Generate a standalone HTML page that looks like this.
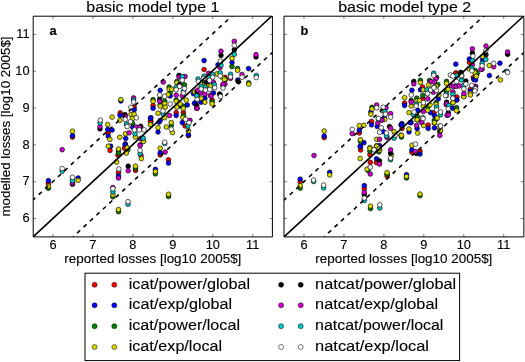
<!DOCTYPE html><html><head><meta charset="utf-8"><style>html,body{margin:0;padding:0;background:#fff;overflow:hidden}svg{display:block;will-change:transform}text{font-family:"Liberation Sans",sans-serif;fill:#000;stroke:#000;stroke-width:0.12px}</style></head><body>
<svg width="525" height="362" viewBox="0 0 525 362">
<rect width="525" height="362" fill="#fff"/>
<g clip-path="url(#c0)">
<clipPath id="c0"><rect x="33.0" y="16.0" width="239.70000000000005" height="220.92000000000002"/></clipPath>
<circle cx="204.1" cy="69.5" r="2.35" fill="#ff0000" stroke="#000" stroke-width="0.65"/>
<circle cx="225.0" cy="77.3" r="2.35" fill="#ff0000" stroke="#000" stroke-width="0.65"/>
<circle cx="212.1" cy="100.0" r="2.35" fill="#ff0000" stroke="#000" stroke-width="0.65"/>
<circle cx="153.1" cy="105.5" r="2.35" fill="#ff0000" stroke="#000" stroke-width="0.65"/>
<circle cx="176.2" cy="112.7" r="2.35" fill="#ff0000" stroke="#000" stroke-width="0.65"/>
<circle cx="150.9" cy="121.5" r="2.35" fill="#ff0000" stroke="#000" stroke-width="0.65"/>
<circle cx="183.4" cy="112.7" r="2.35" fill="#ff0000" stroke="#000" stroke-width="0.65"/>
<circle cx="185.1" cy="126.0" r="2.35" fill="#ff0000" stroke="#000" stroke-width="0.65"/>
<circle cx="188.4" cy="135.6" r="2.35" fill="#ff0000" stroke="#000" stroke-width="0.65"/>
<circle cx="160.2" cy="154.9" r="2.35" fill="#ff0000" stroke="#000" stroke-width="0.65"/>
<circle cx="168.5" cy="159.8" r="2.35" fill="#ff0000" stroke="#000" stroke-width="0.65"/>
<circle cx="134.2" cy="107.1" r="2.35" fill="#ff0000" stroke="#000" stroke-width="0.65"/>
<circle cx="120.2" cy="112.9" r="2.35" fill="#ff0000" stroke="#000" stroke-width="0.65"/>
<circle cx="108.2" cy="132.8" r="2.35" fill="#ff0000" stroke="#000" stroke-width="0.65"/>
<circle cx="150.4" cy="121.7" r="2.35" fill="#ff0000" stroke="#000" stroke-width="0.65"/>
<circle cx="72.5" cy="137.1" r="2.35" fill="#ff0000" stroke="#000" stroke-width="0.65"/>
<circle cx="48.4" cy="183.5" r="2.35" fill="#ff0000" stroke="#000" stroke-width="0.65"/>
<circle cx="110.0" cy="150.4" r="2.35" fill="#ff0000" stroke="#000" stroke-width="0.65"/>
<circle cx="118.0" cy="155.2" r="2.35" fill="#ff0000" stroke="#000" stroke-width="0.65"/>
<circle cx="124.5" cy="148.3" r="2.35" fill="#ff0000" stroke="#000" stroke-width="0.65"/>
<circle cx="141.0" cy="155.5" r="2.35" fill="#ff0000" stroke="#000" stroke-width="0.65"/>
<circle cx="118.5" cy="172.5" r="2.35" fill="#ff0000" stroke="#000" stroke-width="0.65"/>
<circle cx="135.5" cy="170.4" r="2.35" fill="#ff0000" stroke="#000" stroke-width="0.65"/>
<circle cx="232.0" cy="62.6" r="2.35" fill="#0000ff" stroke="#000" stroke-width="0.65"/>
<circle cx="218.0" cy="64.8" r="2.35" fill="#0000ff" stroke="#000" stroke-width="0.65"/>
<circle cx="248.6" cy="68.6" r="2.35" fill="#0000ff" stroke="#000" stroke-width="0.65"/>
<circle cx="204.1" cy="60.6" r="2.35" fill="#0000ff" stroke="#000" stroke-width="0.65"/>
<circle cx="237.8" cy="80.0" r="2.35" fill="#0000ff" stroke="#000" stroke-width="0.65"/>
<circle cx="213.4" cy="93.0" r="2.35" fill="#0000ff" stroke="#000" stroke-width="0.65"/>
<circle cx="201.1" cy="102.2" r="2.35" fill="#0000ff" stroke="#000" stroke-width="0.65"/>
<circle cx="204.9" cy="98.3" r="2.35" fill="#0000ff" stroke="#000" stroke-width="0.65"/>
<circle cx="195.6" cy="102.7" r="2.35" fill="#0000ff" stroke="#000" stroke-width="0.65"/>
<circle cx="160.2" cy="90.3" r="2.35" fill="#0000ff" stroke="#000" stroke-width="0.65"/>
<circle cx="170.2" cy="96.0" r="2.35" fill="#0000ff" stroke="#000" stroke-width="0.65"/>
<circle cx="193.4" cy="93.6" r="2.35" fill="#0000ff" stroke="#000" stroke-width="0.65"/>
<circle cx="153.1" cy="108.3" r="2.35" fill="#0000ff" stroke="#000" stroke-width="0.65"/>
<circle cx="180.1" cy="106.1" r="2.35" fill="#0000ff" stroke="#000" stroke-width="0.65"/>
<circle cx="187.3" cy="105.0" r="2.35" fill="#0000ff" stroke="#000" stroke-width="0.65"/>
<circle cx="176.2" cy="115.5" r="2.35" fill="#0000ff" stroke="#000" stroke-width="0.65"/>
<circle cx="150.9" cy="117.7" r="2.35" fill="#0000ff" stroke="#000" stroke-width="0.65"/>
<circle cx="159.1" cy="122.1" r="2.35" fill="#0000ff" stroke="#000" stroke-width="0.65"/>
<circle cx="160.2" cy="120.5" r="2.35" fill="#0000ff" stroke="#000" stroke-width="0.65"/>
<circle cx="158.0" cy="132.0" r="2.35" fill="#0000ff" stroke="#000" stroke-width="0.65"/>
<circle cx="182.3" cy="122.6" r="2.35" fill="#0000ff" stroke="#000" stroke-width="0.65"/>
<circle cx="188.4" cy="134.8" r="2.35" fill="#0000ff" stroke="#000" stroke-width="0.65"/>
<circle cx="194.5" cy="103.3" r="2.35" fill="#0000ff" stroke="#000" stroke-width="0.65"/>
<circle cx="160.2" cy="152.7" r="2.35" fill="#0000ff" stroke="#000" stroke-width="0.65"/>
<circle cx="168.5" cy="163.1" r="2.35" fill="#0000ff" stroke="#000" stroke-width="0.65"/>
<circle cx="155.4" cy="169.4" r="2.35" fill="#0000ff" stroke="#000" stroke-width="0.65"/>
<circle cx="120.9" cy="101.0" r="2.35" fill="#0000ff" stroke="#000" stroke-width="0.65"/>
<circle cx="134.2" cy="109.8" r="2.35" fill="#0000ff" stroke="#000" stroke-width="0.65"/>
<circle cx="120.0" cy="115.3" r="2.35" fill="#0000ff" stroke="#000" stroke-width="0.65"/>
<circle cx="132.8" cy="127.3" r="2.35" fill="#0000ff" stroke="#000" stroke-width="0.65"/>
<circle cx="107.7" cy="129.5" r="2.35" fill="#0000ff" stroke="#000" stroke-width="0.65"/>
<circle cx="112.1" cy="130.0" r="2.35" fill="#0000ff" stroke="#000" stroke-width="0.65"/>
<circle cx="108.2" cy="136.1" r="2.35" fill="#0000ff" stroke="#000" stroke-width="0.65"/>
<circle cx="125.7" cy="138.5" r="2.35" fill="#0000ff" stroke="#000" stroke-width="0.65"/>
<circle cx="150.4" cy="118.3" r="2.35" fill="#0000ff" stroke="#000" stroke-width="0.65"/>
<circle cx="125.3" cy="143.9" r="2.35" fill="#0000ff" stroke="#000" stroke-width="0.65"/>
<circle cx="72.5" cy="135.7" r="2.35" fill="#0000ff" stroke="#000" stroke-width="0.65"/>
<circle cx="78.1" cy="178.0" r="2.35" fill="#0000ff" stroke="#000" stroke-width="0.65"/>
<circle cx="48.4" cy="180.7" r="2.35" fill="#0000ff" stroke="#000" stroke-width="0.65"/>
<circle cx="110.6" cy="146.2" r="2.35" fill="#0000ff" stroke="#000" stroke-width="0.65"/>
<circle cx="118.5" cy="151.0" r="2.35" fill="#0000ff" stroke="#000" stroke-width="0.65"/>
<circle cx="125.1" cy="144.8" r="2.35" fill="#0000ff" stroke="#000" stroke-width="0.65"/>
<circle cx="118.5" cy="175.9" r="2.35" fill="#0000ff" stroke="#000" stroke-width="0.65"/>
<circle cx="232.0" cy="66.6" r="2.35" fill="#008000" stroke="#000" stroke-width="0.65"/>
<circle cx="237.6" cy="68.5" r="2.35" fill="#008000" stroke="#000" stroke-width="0.65"/>
<circle cx="248.7" cy="82.8" r="2.35" fill="#008000" stroke="#000" stroke-width="0.65"/>
<circle cx="204.3" cy="82.2" r="2.35" fill="#008000" stroke="#000" stroke-width="0.65"/>
<circle cx="212.1" cy="101.8" r="2.35" fill="#008000" stroke="#000" stroke-width="0.65"/>
<circle cx="176.8" cy="81.5" r="2.35" fill="#008000" stroke="#000" stroke-width="0.65"/>
<circle cx="184.5" cy="84.8" r="2.35" fill="#008000" stroke="#000" stroke-width="0.65"/>
<circle cx="169.1" cy="87.0" r="2.35" fill="#008000" stroke="#000" stroke-width="0.65"/>
<circle cx="170.2" cy="92.5" r="2.35" fill="#008000" stroke="#000" stroke-width="0.65"/>
<circle cx="153.1" cy="99.7" r="2.35" fill="#008000" stroke="#000" stroke-width="0.65"/>
<circle cx="164.7" cy="101.3" r="2.35" fill="#008000" stroke="#000" stroke-width="0.65"/>
<circle cx="176.2" cy="100.0" r="2.35" fill="#008000" stroke="#000" stroke-width="0.65"/>
<circle cx="160.2" cy="104.5" r="2.35" fill="#008000" stroke="#000" stroke-width="0.65"/>
<circle cx="183.4" cy="106.1" r="2.35" fill="#008000" stroke="#000" stroke-width="0.65"/>
<circle cx="171.3" cy="125.4" r="2.35" fill="#008000" stroke="#000" stroke-width="0.65"/>
<circle cx="183.4" cy="115.5" r="2.35" fill="#008000" stroke="#000" stroke-width="0.65"/>
<circle cx="155.4" cy="173.8" r="2.35" fill="#008000" stroke="#000" stroke-width="0.65"/>
<circle cx="168.5" cy="196.5" r="2.35" fill="#008000" stroke="#000" stroke-width="0.65"/>
<circle cx="132.5" cy="123.4" r="2.35" fill="#008000" stroke="#000" stroke-width="0.65"/>
<circle cx="48.4" cy="188.3" r="2.35" fill="#008000" stroke="#000" stroke-width="0.65"/>
<circle cx="118.5" cy="153.1" r="2.35" fill="#008000" stroke="#000" stroke-width="0.65"/>
<circle cx="127.9" cy="149.7" r="2.35" fill="#008000" stroke="#000" stroke-width="0.65"/>
<circle cx="135.5" cy="168.3" r="2.35" fill="#008000" stroke="#000" stroke-width="0.65"/>
<circle cx="112.9" cy="196.8" r="2.35" fill="#008000" stroke="#000" stroke-width="0.65"/>
<circle cx="118.5" cy="211.7" r="2.35" fill="#008000" stroke="#000" stroke-width="0.65"/>
<circle cx="232.0" cy="58.4" r="2.35" fill="#d8d800" stroke="#000" stroke-width="0.65"/>
<circle cx="237.6" cy="70.3" r="2.35" fill="#d8d800" stroke="#000" stroke-width="0.65"/>
<circle cx="248.8" cy="84.1" r="2.35" fill="#d8d800" stroke="#000" stroke-width="0.65"/>
<circle cx="225.6" cy="79.4" r="2.35" fill="#d8d800" stroke="#000" stroke-width="0.65"/>
<circle cx="217.1" cy="73.9" r="2.35" fill="#d8d800" stroke="#000" stroke-width="0.65"/>
<circle cx="222.3" cy="77.3" r="2.35" fill="#d8d800" stroke="#000" stroke-width="0.65"/>
<circle cx="224.4" cy="79.4" r="2.35" fill="#d8d800" stroke="#000" stroke-width="0.65"/>
<circle cx="204.8" cy="84.6" r="2.35" fill="#d8d800" stroke="#000" stroke-width="0.65"/>
<circle cx="208.3" cy="85.8" r="2.35" fill="#d8d800" stroke="#000" stroke-width="0.65"/>
<circle cx="210.5" cy="86.0" r="2.35" fill="#d8d800" stroke="#000" stroke-width="0.65"/>
<circle cx="219.5" cy="94.0" r="2.35" fill="#d8d800" stroke="#000" stroke-width="0.65"/>
<circle cx="201.1" cy="98.3" r="2.35" fill="#d8d800" stroke="#000" stroke-width="0.65"/>
<circle cx="204.9" cy="102.2" r="2.35" fill="#d8d800" stroke="#000" stroke-width="0.65"/>
<circle cx="212.1" cy="103.8" r="2.35" fill="#d8d800" stroke="#000" stroke-width="0.65"/>
<circle cx="176.8" cy="82.6" r="2.35" fill="#d8d800" stroke="#000" stroke-width="0.65"/>
<circle cx="169.1" cy="89.2" r="2.35" fill="#d8d800" stroke="#000" stroke-width="0.65"/>
<circle cx="171.8" cy="89.2" r="2.35" fill="#d8d800" stroke="#000" stroke-width="0.65"/>
<circle cx="168.0" cy="94.7" r="2.35" fill="#d8d800" stroke="#000" stroke-width="0.65"/>
<circle cx="153.1" cy="101.3" r="2.35" fill="#d8d800" stroke="#000" stroke-width="0.65"/>
<circle cx="164.7" cy="103.5" r="2.35" fill="#d8d800" stroke="#000" stroke-width="0.65"/>
<circle cx="176.2" cy="101.3" r="2.35" fill="#d8d800" stroke="#000" stroke-width="0.65"/>
<circle cx="186.2" cy="100.2" r="2.35" fill="#d8d800" stroke="#000" stroke-width="0.65"/>
<circle cx="180.1" cy="104.0" r="2.35" fill="#d8d800" stroke="#000" stroke-width="0.65"/>
<circle cx="194.5" cy="92.0" r="2.35" fill="#d8d800" stroke="#000" stroke-width="0.65"/>
<circle cx="160.2" cy="106.1" r="2.35" fill="#d8d800" stroke="#000" stroke-width="0.65"/>
<circle cx="165.2" cy="107.2" r="2.35" fill="#d8d800" stroke="#000" stroke-width="0.65"/>
<circle cx="176.8" cy="107.2" r="2.35" fill="#d8d800" stroke="#000" stroke-width="0.65"/>
<circle cx="183.4" cy="108.3" r="2.35" fill="#d8d800" stroke="#000" stroke-width="0.65"/>
<circle cx="158.0" cy="113.2" r="2.35" fill="#d8d800" stroke="#000" stroke-width="0.65"/>
<circle cx="164.7" cy="117.7" r="2.35" fill="#d8d800" stroke="#000" stroke-width="0.65"/>
<circle cx="150.9" cy="124.8" r="2.35" fill="#d8d800" stroke="#000" stroke-width="0.65"/>
<circle cx="158.0" cy="127.6" r="2.35" fill="#d8d800" stroke="#000" stroke-width="0.65"/>
<circle cx="166.3" cy="127.0" r="2.35" fill="#d8d800" stroke="#000" stroke-width="0.65"/>
<circle cx="171.3" cy="122.6" r="2.35" fill="#d8d800" stroke="#000" stroke-width="0.65"/>
<circle cx="172.4" cy="132.6" r="2.35" fill="#d8d800" stroke="#000" stroke-width="0.65"/>
<circle cx="182.9" cy="117.7" r="2.35" fill="#d8d800" stroke="#000" stroke-width="0.65"/>
<circle cx="188.4" cy="130.9" r="2.35" fill="#d8d800" stroke="#000" stroke-width="0.65"/>
<circle cx="160.2" cy="148.2" r="2.35" fill="#d8d800" stroke="#000" stroke-width="0.65"/>
<circle cx="155.4" cy="171.6" r="2.35" fill="#d8d800" stroke="#000" stroke-width="0.65"/>
<circle cx="168.5" cy="194.3" r="2.35" fill="#d8d800" stroke="#000" stroke-width="0.65"/>
<circle cx="120.9" cy="99.6" r="2.35" fill="#d8d800" stroke="#000" stroke-width="0.65"/>
<circle cx="112.1" cy="117.1" r="2.35" fill="#d8d800" stroke="#000" stroke-width="0.65"/>
<circle cx="119.9" cy="120.4" r="2.35" fill="#d8d800" stroke="#000" stroke-width="0.65"/>
<circle cx="131.0" cy="114.4" r="2.35" fill="#d8d800" stroke="#000" stroke-width="0.65"/>
<circle cx="134.1" cy="114.2" r="2.35" fill="#d8d800" stroke="#000" stroke-width="0.65"/>
<circle cx="132.5" cy="118.5" r="2.35" fill="#d8d800" stroke="#000" stroke-width="0.65"/>
<circle cx="107.7" cy="124.5" r="2.35" fill="#d8d800" stroke="#000" stroke-width="0.65"/>
<circle cx="109.9" cy="139.4" r="2.35" fill="#d8d800" stroke="#000" stroke-width="0.65"/>
<circle cx="135.3" cy="137.1" r="2.35" fill="#d8d800" stroke="#000" stroke-width="0.65"/>
<circle cx="125.4" cy="133.8" r="2.35" fill="#d8d800" stroke="#000" stroke-width="0.65"/>
<circle cx="119.8" cy="137.2" r="2.35" fill="#d8d800" stroke="#000" stroke-width="0.65"/>
<circle cx="143.4" cy="141.0" r="2.35" fill="#d8d800" stroke="#000" stroke-width="0.65"/>
<circle cx="150.4" cy="124.6" r="2.35" fill="#d8d800" stroke="#000" stroke-width="0.65"/>
<circle cx="72.5" cy="131.2" r="2.35" fill="#d8d800" stroke="#000" stroke-width="0.65"/>
<circle cx="78.1" cy="180.3" r="2.35" fill="#d8d800" stroke="#000" stroke-width="0.65"/>
<circle cx="48.4" cy="186.3" r="2.35" fill="#d8d800" stroke="#000" stroke-width="0.65"/>
<circle cx="108.3" cy="146.2" r="2.35" fill="#d8d800" stroke="#000" stroke-width="0.65"/>
<circle cx="118.5" cy="149.0" r="2.35" fill="#d8d800" stroke="#000" stroke-width="0.65"/>
<circle cx="127.2" cy="147.6" r="2.35" fill="#d8d800" stroke="#000" stroke-width="0.65"/>
<circle cx="126.3" cy="153.1" r="2.35" fill="#d8d800" stroke="#000" stroke-width="0.65"/>
<circle cx="143.4" cy="141.4" r="2.35" fill="#d8d800" stroke="#000" stroke-width="0.65"/>
<circle cx="141.4" cy="158.6" r="2.35" fill="#d8d800" stroke="#000" stroke-width="0.65"/>
<circle cx="116.6" cy="162.1" r="2.35" fill="#d8d800" stroke="#000" stroke-width="0.65"/>
<circle cx="135.5" cy="166.2" r="2.35" fill="#d8d800" stroke="#000" stroke-width="0.65"/>
<circle cx="112.9" cy="194.9" r="2.35" fill="#d8d800" stroke="#000" stroke-width="0.65"/>
<circle cx="118.5" cy="209.6" r="2.35" fill="#d8d800" stroke="#000" stroke-width="0.65"/>
<circle cx="234.3" cy="49.9" r="2.35" fill="#000000" stroke="#000" stroke-width="0.65"/>
<circle cx="221.0" cy="55.4" r="2.35" fill="#000000" stroke="#000" stroke-width="0.65"/>
<circle cx="256.0" cy="57.0" r="2.35" fill="#000000" stroke="#000" stroke-width="0.65"/>
<circle cx="238.2" cy="81.6" r="2.35" fill="#000000" stroke="#000" stroke-width="0.65"/>
<circle cx="223.0" cy="85.8" r="2.35" fill="#000000" stroke="#000" stroke-width="0.65"/>
<circle cx="206.4" cy="82.0" r="2.35" fill="#000000" stroke="#000" stroke-width="0.65"/>
<circle cx="197.0" cy="91.8" r="2.35" fill="#000000" stroke="#000" stroke-width="0.65"/>
<circle cx="220.0" cy="94.4" r="2.35" fill="#000000" stroke="#000" stroke-width="0.65"/>
<circle cx="196.7" cy="105.5" r="2.35" fill="#000000" stroke="#000" stroke-width="0.65"/>
<circle cx="179.0" cy="75.4" r="2.35" fill="#000000" stroke="#000" stroke-width="0.65"/>
<circle cx="179.6" cy="84.5" r="2.35" fill="#000000" stroke="#000" stroke-width="0.65"/>
<circle cx="159.7" cy="99.1" r="2.35" fill="#000000" stroke="#000" stroke-width="0.65"/>
<circle cx="125.0" cy="114.6" r="2.35" fill="#000000" stroke="#000" stroke-width="0.65"/>
<circle cx="100.0" cy="128.9" r="2.35" fill="#000000" stroke="#000" stroke-width="0.65"/>
<circle cx="140.7" cy="126.3" r="2.35" fill="#000000" stroke="#000" stroke-width="0.65"/>
<circle cx="72.5" cy="184.2" r="2.35" fill="#000000" stroke="#000" stroke-width="0.65"/>
<circle cx="128.2" cy="166.2" r="2.35" fill="#000000" stroke="#000" stroke-width="0.65"/>
<circle cx="234.3" cy="41.3" r="2.35" fill="#d000d0" stroke="#000" stroke-width="0.65"/>
<circle cx="221.0" cy="51.2" r="2.35" fill="#d000d0" stroke="#000" stroke-width="0.65"/>
<circle cx="220.0" cy="67.4" r="2.35" fill="#d000d0" stroke="#000" stroke-width="0.65"/>
<circle cx="256.0" cy="54.7" r="2.35" fill="#d000d0" stroke="#000" stroke-width="0.65"/>
<circle cx="230.5" cy="78.3" r="2.35" fill="#d000d0" stroke="#000" stroke-width="0.65"/>
<circle cx="242.0" cy="74.5" r="2.35" fill="#d000d0" stroke="#000" stroke-width="0.65"/>
<circle cx="225.0" cy="84.0" r="2.35" fill="#d000d0" stroke="#000" stroke-width="0.65"/>
<circle cx="208.6" cy="73.3" r="2.35" fill="#d000d0" stroke="#000" stroke-width="0.65"/>
<circle cx="213.3" cy="82.2" r="2.35" fill="#d000d0" stroke="#000" stroke-width="0.65"/>
<circle cx="223.0" cy="84.2" r="2.35" fill="#d000d0" stroke="#000" stroke-width="0.65"/>
<circle cx="197.8" cy="90.1" r="2.35" fill="#d000d0" stroke="#000" stroke-width="0.65"/>
<circle cx="201.0" cy="93.0" r="2.35" fill="#d000d0" stroke="#000" stroke-width="0.65"/>
<circle cx="205.0" cy="94.0" r="2.35" fill="#d000d0" stroke="#000" stroke-width="0.65"/>
<circle cx="210.4" cy="95.4" r="2.35" fill="#d000d0" stroke="#000" stroke-width="0.65"/>
<circle cx="196.7" cy="108.2" r="2.35" fill="#d000d0" stroke="#000" stroke-width="0.65"/>
<circle cx="211.0" cy="96.1" r="2.35" fill="#d000d0" stroke="#000" stroke-width="0.65"/>
<circle cx="163.3" cy="82.1" r="2.35" fill="#d000d0" stroke="#000" stroke-width="0.65"/>
<circle cx="179.0" cy="77.0" r="2.35" fill="#d000d0" stroke="#000" stroke-width="0.65"/>
<circle cx="185.1" cy="76.5" r="2.35" fill="#d000d0" stroke="#000" stroke-width="0.65"/>
<circle cx="176.2" cy="95.2" r="2.35" fill="#d000d0" stroke="#000" stroke-width="0.65"/>
<circle cx="182.3" cy="95.8" r="2.35" fill="#d000d0" stroke="#000" stroke-width="0.65"/>
<circle cx="159.7" cy="101.3" r="2.35" fill="#d000d0" stroke="#000" stroke-width="0.65"/>
<circle cx="169.6" cy="115.5" r="2.35" fill="#d000d0" stroke="#000" stroke-width="0.65"/>
<circle cx="190.0" cy="120.4" r="2.35" fill="#d000d0" stroke="#000" stroke-width="0.65"/>
<circle cx="197.2" cy="108.3" r="2.35" fill="#d000d0" stroke="#000" stroke-width="0.65"/>
<circle cx="165.2" cy="152.1" r="2.35" fill="#d000d0" stroke="#000" stroke-width="0.65"/>
<circle cx="133.6" cy="97.9" r="2.35" fill="#d000d0" stroke="#000" stroke-width="0.65"/>
<circle cx="125.3" cy="116.0" r="2.35" fill="#d000d0" stroke="#000" stroke-width="0.65"/>
<circle cx="100.0" cy="126.7" r="2.35" fill="#d000d0" stroke="#000" stroke-width="0.65"/>
<circle cx="135.9" cy="127.0" r="2.35" fill="#d000d0" stroke="#000" stroke-width="0.65"/>
<circle cx="139.5" cy="127.5" r="2.35" fill="#d000d0" stroke="#000" stroke-width="0.65"/>
<circle cx="129.1" cy="132.8" r="2.35" fill="#d000d0" stroke="#000" stroke-width="0.65"/>
<circle cx="140.5" cy="138.5" r="2.35" fill="#d000d0" stroke="#000" stroke-width="0.65"/>
<circle cx="140.2" cy="144.9" r="2.35" fill="#d000d0" stroke="#000" stroke-width="0.65"/>
<circle cx="62.2" cy="149.7" r="2.35" fill="#d000d0" stroke="#000" stroke-width="0.65"/>
<circle cx="72.5" cy="183.1" r="2.35" fill="#d000d0" stroke="#000" stroke-width="0.65"/>
<circle cx="140.1" cy="145.5" r="2.35" fill="#d000d0" stroke="#000" stroke-width="0.65"/>
<circle cx="118.5" cy="178.0" r="2.35" fill="#d000d0" stroke="#000" stroke-width="0.65"/>
<circle cx="128.2" cy="170.7" r="2.35" fill="#d000d0" stroke="#000" stroke-width="0.65"/>
<circle cx="112.9" cy="187.5" r="2.35" fill="#d000d0" stroke="#000" stroke-width="0.65"/>
<circle cx="234.3" cy="54.3" r="2.35" fill="#00c8c8" stroke="#000" stroke-width="0.65"/>
<circle cx="221.0" cy="65.1" r="2.35" fill="#00c8c8" stroke="#000" stroke-width="0.65"/>
<circle cx="230.5" cy="74.3" r="2.35" fill="#00c8c8" stroke="#000" stroke-width="0.65"/>
<circle cx="256.3" cy="75.5" r="2.35" fill="#00c8c8" stroke="#000" stroke-width="0.65"/>
<circle cx="212.6" cy="74.6" r="2.35" fill="#00c8c8" stroke="#000" stroke-width="0.65"/>
<circle cx="204.0" cy="76.3" r="2.35" fill="#00c8c8" stroke="#000" stroke-width="0.65"/>
<circle cx="198.1" cy="79.0" r="2.35" fill="#00c8c8" stroke="#000" stroke-width="0.65"/>
<circle cx="209.2" cy="77.7" r="2.35" fill="#00c8c8" stroke="#000" stroke-width="0.65"/>
<circle cx="220.2" cy="72.8" r="2.35" fill="#00c8c8" stroke="#000" stroke-width="0.65"/>
<circle cx="214.3" cy="84.6" r="2.35" fill="#00c8c8" stroke="#000" stroke-width="0.65"/>
<circle cx="205.0" cy="87.0" r="2.35" fill="#00c8c8" stroke="#000" stroke-width="0.65"/>
<circle cx="201.2" cy="86.3" r="2.35" fill="#00c8c8" stroke="#000" stroke-width="0.65"/>
<circle cx="197.2" cy="96.1" r="2.35" fill="#00c8c8" stroke="#000" stroke-width="0.65"/>
<circle cx="182.3" cy="76.5" r="2.35" fill="#00c8c8" stroke="#000" stroke-width="0.65"/>
<circle cx="176.2" cy="87.5" r="2.35" fill="#00c8c8" stroke="#000" stroke-width="0.65"/>
<circle cx="183.4" cy="91.4" r="2.35" fill="#00c8c8" stroke="#000" stroke-width="0.65"/>
<circle cx="196.7" cy="95.8" r="2.35" fill="#00c8c8" stroke="#000" stroke-width="0.65"/>
<circle cx="163.0" cy="113.8" r="2.35" fill="#00c8c8" stroke="#000" stroke-width="0.65"/>
<circle cx="187.8" cy="126.0" r="2.35" fill="#00c8c8" stroke="#000" stroke-width="0.65"/>
<circle cx="164.7" cy="143.5" r="2.35" fill="#00c8c8" stroke="#000" stroke-width="0.65"/>
<circle cx="133.6" cy="100.1" r="2.35" fill="#00c8c8" stroke="#000" stroke-width="0.65"/>
<circle cx="126.5" cy="124.2" r="2.35" fill="#00c8c8" stroke="#000" stroke-width="0.65"/>
<circle cx="100.0" cy="122.9" r="2.35" fill="#00c8c8" stroke="#000" stroke-width="0.65"/>
<circle cx="135.0" cy="133.8" r="2.35" fill="#00c8c8" stroke="#000" stroke-width="0.65"/>
<circle cx="143.1" cy="138.1" r="2.35" fill="#00c8c8" stroke="#000" stroke-width="0.65"/>
<circle cx="62.2" cy="171.1" r="2.35" fill="#00c8c8" stroke="#000" stroke-width="0.65"/>
<circle cx="72.5" cy="180.7" r="2.35" fill="#00c8c8" stroke="#000" stroke-width="0.65"/>
<circle cx="140.1" cy="153.8" r="2.35" fill="#00c8c8" stroke="#000" stroke-width="0.65"/>
<circle cx="112.9" cy="191.8" r="2.35" fill="#00c8c8" stroke="#000" stroke-width="0.65"/>
<circle cx="128.0" cy="204.2" r="2.35" fill="#00c8c8" stroke="#000" stroke-width="0.65"/>
<circle cx="234.3" cy="45.4" r="2.35" fill="#ffffff" stroke="#000" stroke-width="0.65"/>
<circle cx="220.4" cy="61.2" r="2.35" fill="#ffffff" stroke="#000" stroke-width="0.65"/>
<circle cx="230.5" cy="76.9" r="2.35" fill="#ffffff" stroke="#000" stroke-width="0.65"/>
<circle cx="242.0" cy="77.2" r="2.35" fill="#ffffff" stroke="#000" stroke-width="0.65"/>
<circle cx="256.3" cy="77.5" r="2.35" fill="#ffffff" stroke="#000" stroke-width="0.65"/>
<circle cx="212.6" cy="77.3" r="2.35" fill="#ffffff" stroke="#000" stroke-width="0.65"/>
<circle cx="204.0" cy="78.4" r="2.35" fill="#ffffff" stroke="#000" stroke-width="0.65"/>
<circle cx="198.4" cy="81.4" r="2.35" fill="#ffffff" stroke="#000" stroke-width="0.65"/>
<circle cx="209.5" cy="80.4" r="2.35" fill="#ffffff" stroke="#000" stroke-width="0.65"/>
<circle cx="220.2" cy="75.9" r="2.35" fill="#ffffff" stroke="#000" stroke-width="0.65"/>
<circle cx="214.7" cy="87.7" r="2.35" fill="#ffffff" stroke="#000" stroke-width="0.65"/>
<circle cx="223.0" cy="88.0" r="2.35" fill="#ffffff" stroke="#000" stroke-width="0.65"/>
<circle cx="201.2" cy="89.0" r="2.35" fill="#ffffff" stroke="#000" stroke-width="0.65"/>
<circle cx="205.4" cy="90.1" r="2.35" fill="#ffffff" stroke="#000" stroke-width="0.65"/>
<circle cx="209.8" cy="89.4" r="2.35" fill="#ffffff" stroke="#000" stroke-width="0.65"/>
<circle cx="220.4" cy="96.4" r="2.35" fill="#ffffff" stroke="#000" stroke-width="0.65"/>
<circle cx="197.2" cy="99.4" r="2.35" fill="#ffffff" stroke="#000" stroke-width="0.65"/>
<circle cx="182.3" cy="80.1" r="2.35" fill="#ffffff" stroke="#000" stroke-width="0.65"/>
<circle cx="179.6" cy="86.4" r="2.35" fill="#ffffff" stroke="#000" stroke-width="0.65"/>
<circle cx="184.5" cy="88.6" r="2.35" fill="#ffffff" stroke="#000" stroke-width="0.65"/>
<circle cx="176.2" cy="89.7" r="2.35" fill="#ffffff" stroke="#000" stroke-width="0.65"/>
<circle cx="159.7" cy="94.9" r="2.35" fill="#ffffff" stroke="#000" stroke-width="0.65"/>
<circle cx="164.7" cy="96.4" r="2.35" fill="#ffffff" stroke="#000" stroke-width="0.65"/>
<circle cx="183.4" cy="93.0" r="2.35" fill="#ffffff" stroke="#000" stroke-width="0.65"/>
<circle cx="170.2" cy="104.0" r="2.35" fill="#ffffff" stroke="#000" stroke-width="0.65"/>
<circle cx="163.0" cy="111.0" r="2.35" fill="#ffffff" stroke="#000" stroke-width="0.65"/>
<circle cx="171.3" cy="129.2" r="2.35" fill="#ffffff" stroke="#000" stroke-width="0.65"/>
<circle cx="185.6" cy="119.3" r="2.35" fill="#ffffff" stroke="#000" stroke-width="0.65"/>
<circle cx="189.0" cy="122.6" r="2.35" fill="#ffffff" stroke="#000" stroke-width="0.65"/>
<circle cx="164.7" cy="142.2" r="2.35" fill="#ffffff" stroke="#000" stroke-width="0.65"/>
<circle cx="133.6" cy="102.0" r="2.35" fill="#ffffff" stroke="#000" stroke-width="0.65"/>
<circle cx="130.9" cy="107.3" r="2.35" fill="#ffffff" stroke="#000" stroke-width="0.65"/>
<circle cx="125.3" cy="119.4" r="2.35" fill="#ffffff" stroke="#000" stroke-width="0.65"/>
<circle cx="130.5" cy="121.7" r="2.35" fill="#ffffff" stroke="#000" stroke-width="0.65"/>
<circle cx="127.1" cy="126.5" r="2.35" fill="#ffffff" stroke="#000" stroke-width="0.65"/>
<circle cx="136.4" cy="117.8" r="2.35" fill="#ffffff" stroke="#000" stroke-width="0.65"/>
<circle cx="100.3" cy="120.1" r="2.35" fill="#ffffff" stroke="#000" stroke-width="0.65"/>
<circle cx="134.5" cy="129.9" r="2.35" fill="#ffffff" stroke="#000" stroke-width="0.65"/>
<circle cx="139.3" cy="129.9" r="2.35" fill="#ffffff" stroke="#000" stroke-width="0.65"/>
<circle cx="144.1" cy="129.9" r="2.35" fill="#ffffff" stroke="#000" stroke-width="0.65"/>
<circle cx="62.2" cy="168.6" r="2.35" fill="#ffffff" stroke="#000" stroke-width="0.65"/>
<circle cx="72.5" cy="177.3" r="2.35" fill="#ffffff" stroke="#000" stroke-width="0.65"/>
<circle cx="140.1" cy="150.4" r="2.35" fill="#ffffff" stroke="#000" stroke-width="0.65"/>
<circle cx="118.9" cy="169.0" r="2.35" fill="#ffffff" stroke="#000" stroke-width="0.65"/>
<circle cx="112.9" cy="188.7" r="2.35" fill="#ffffff" stroke="#000" stroke-width="0.65"/>
<circle cx="128.0" cy="201.7" r="2.35" fill="#ffffff" stroke="#000" stroke-width="0.65"/>
<line x1="33.0" y1="236.92" x2="280.69" y2="7.81" stroke="#000" stroke-width="1.6"/>
<line x1="33.0" y1="199.97" x2="240.74" y2="7.81" stroke="#000" stroke-width="1.6" stroke-dasharray="4.1,4.654" stroke-dashoffset="0.914"/>
<line x1="72.95" y1="236.92" x2="280.69" y2="44.76" stroke="#000" stroke-width="1.6" stroke-dasharray="4.1,4.676" stroke-dashoffset="3.136"/>
</g>
<line x1="52.975" y1="236.92000000000002" x2="52.975" y2="233.92000000000002" stroke="#000" stroke-width="0.5"/>
<line x1="52.975" y1="16.0" x2="52.975" y2="19.0" stroke="#000" stroke-width="0.5"/>
<line x1="33.0" y1="218.51" x2="36.0" y2="218.51" stroke="#000" stroke-width="0.5"/>
<line x1="272.70000000000005" y1="218.51" x2="269.70000000000005" y2="218.51" stroke="#000" stroke-width="0.5"/>
<text x="52.975" y="248.8" font-size="12.8" text-anchor="middle">6</text>
<text x="29.6" y="222.31" font-size="12.8" text-anchor="end">6</text>
<line x1="92.92500000000001" y1="236.92000000000002" x2="92.92500000000001" y2="233.92000000000002" stroke="#000" stroke-width="0.5"/>
<line x1="92.92500000000001" y1="16.0" x2="92.92500000000001" y2="19.0" stroke="#000" stroke-width="0.5"/>
<line x1="33.0" y1="181.69" x2="36.0" y2="181.69" stroke="#000" stroke-width="0.5"/>
<line x1="272.70000000000005" y1="181.69" x2="269.70000000000005" y2="181.69" stroke="#000" stroke-width="0.5"/>
<text x="92.92500000000001" y="248.8" font-size="12.8" text-anchor="middle">7</text>
<text x="29.6" y="185.49" font-size="12.8" text-anchor="end">7</text>
<line x1="132.875" y1="236.92000000000002" x2="132.875" y2="233.92000000000002" stroke="#000" stroke-width="0.5"/>
<line x1="132.875" y1="16.0" x2="132.875" y2="19.0" stroke="#000" stroke-width="0.5"/>
<line x1="33.0" y1="144.87" x2="36.0" y2="144.87" stroke="#000" stroke-width="0.5"/>
<line x1="272.70000000000005" y1="144.87" x2="269.70000000000005" y2="144.87" stroke="#000" stroke-width="0.5"/>
<text x="132.875" y="248.8" font-size="12.8" text-anchor="middle">8</text>
<text x="29.6" y="148.67000000000002" font-size="12.8" text-anchor="end">8</text>
<line x1="172.82500000000002" y1="236.92000000000002" x2="172.82500000000002" y2="233.92000000000002" stroke="#000" stroke-width="0.5"/>
<line x1="172.82500000000002" y1="16.0" x2="172.82500000000002" y2="19.0" stroke="#000" stroke-width="0.5"/>
<line x1="33.0" y1="108.05" x2="36.0" y2="108.05" stroke="#000" stroke-width="0.5"/>
<line x1="272.70000000000005" y1="108.05" x2="269.70000000000005" y2="108.05" stroke="#000" stroke-width="0.5"/>
<text x="172.82500000000002" y="248.8" font-size="12.8" text-anchor="middle">9</text>
<text x="29.6" y="111.85" font-size="12.8" text-anchor="end">9</text>
<line x1="212.775" y1="236.92000000000002" x2="212.775" y2="233.92000000000002" stroke="#000" stroke-width="0.5"/>
<line x1="212.775" y1="16.0" x2="212.775" y2="19.0" stroke="#000" stroke-width="0.5"/>
<line x1="33.0" y1="71.23" x2="36.0" y2="71.23" stroke="#000" stroke-width="0.5"/>
<line x1="272.70000000000005" y1="71.23" x2="269.70000000000005" y2="71.23" stroke="#000" stroke-width="0.5"/>
<text x="212.775" y="248.8" font-size="12.8" text-anchor="middle">10</text>
<text x="29.6" y="75.03" font-size="12.8" text-anchor="end">10</text>
<line x1="252.72500000000002" y1="236.92000000000002" x2="252.72500000000002" y2="233.92000000000002" stroke="#000" stroke-width="0.5"/>
<line x1="252.72500000000002" y1="16.0" x2="252.72500000000002" y2="19.0" stroke="#000" stroke-width="0.5"/>
<line x1="33.0" y1="34.41" x2="36.0" y2="34.41" stroke="#000" stroke-width="0.5"/>
<line x1="272.70000000000005" y1="34.41" x2="269.70000000000005" y2="34.41" stroke="#000" stroke-width="0.5"/>
<text x="252.72500000000002" y="248.8" font-size="12.8" text-anchor="middle">11</text>
<text x="29.6" y="38.209999999999994" font-size="12.8" text-anchor="end">11</text>
<path d="M33.2,16.2H272.40000000000003V236.9H33.2Z" fill="none" stroke="#000" stroke-width="1"/>
<text x="152.85000000000002" y="12" font-size="14.7" text-anchor="middle" textLength="133" lengthAdjust="spacingAndGlyphs">basic model type 1</text>
<text x="152.85000000000002" y="263" font-size="12.3" text-anchor="middle" textLength="177" lengthAdjust="spacingAndGlyphs">reported losses [log10 2005$]</text>
<text x="49.6" y="35.4" font-size="12.8" font-weight="bold">a</text>
<g clip-path="url(#c1)">
<clipPath id="c1"><rect x="284.0" y="16.0" width="239.70000000000005" height="220.92000000000002"/></clipPath>
<circle cx="455.8" cy="73.3" r="2.35" fill="#ff0000" stroke="#000" stroke-width="0.65"/>
<circle cx="469.5" cy="62.4" r="2.35" fill="#ff0000" stroke="#000" stroke-width="0.65"/>
<circle cx="473.3" cy="77.5" r="2.35" fill="#ff0000" stroke="#000" stroke-width="0.65"/>
<circle cx="456.0" cy="73.5" r="2.35" fill="#ff0000" stroke="#000" stroke-width="0.65"/>
<circle cx="455.9" cy="73.0" r="2.35" fill="#ff0000" stroke="#000" stroke-width="0.65"/>
<circle cx="470.3" cy="89.4" r="2.35" fill="#ff0000" stroke="#000" stroke-width="0.65"/>
<circle cx="456.9" cy="97.0" r="2.35" fill="#ff0000" stroke="#000" stroke-width="0.65"/>
<circle cx="422.6" cy="87.0" r="2.35" fill="#ff0000" stroke="#000" stroke-width="0.65"/>
<circle cx="404.6" cy="103.2" r="2.35" fill="#ff0000" stroke="#000" stroke-width="0.65"/>
<circle cx="422.8" cy="98.8" r="2.35" fill="#ff0000" stroke="#000" stroke-width="0.65"/>
<circle cx="433.9" cy="112.6" r="2.35" fill="#ff0000" stroke="#000" stroke-width="0.65"/>
<circle cx="371.5" cy="121.4" r="2.35" fill="#ff0000" stroke="#000" stroke-width="0.65"/>
<circle cx="359.3" cy="133.0" r="2.35" fill="#ff0000" stroke="#000" stroke-width="0.65"/>
<circle cx="360.6" cy="150.0" r="2.35" fill="#ff0000" stroke="#000" stroke-width="0.65"/>
<circle cx="324.2" cy="137.6" r="2.35" fill="#ff0000" stroke="#000" stroke-width="0.65"/>
<circle cx="300.2" cy="181.9" r="2.35" fill="#ff0000" stroke="#000" stroke-width="0.65"/>
<circle cx="369.9" cy="154.7" r="2.35" fill="#ff0000" stroke="#000" stroke-width="0.65"/>
<circle cx="376.5" cy="162.7" r="2.35" fill="#ff0000" stroke="#000" stroke-width="0.65"/>
<circle cx="370.3" cy="162.3" r="2.35" fill="#ff0000" stroke="#000" stroke-width="0.65"/>
<circle cx="387.1" cy="176.1" r="2.35" fill="#ff0000" stroke="#000" stroke-width="0.65"/>
<circle cx="364.3" cy="188.7" r="2.35" fill="#ff0000" stroke="#000" stroke-width="0.65"/>
<circle cx="402.1" cy="128.4" r="2.35" fill="#ff0000" stroke="#000" stroke-width="0.65"/>
<circle cx="428.2" cy="125.0" r="2.35" fill="#ff0000" stroke="#000" stroke-width="0.65"/>
<circle cx="411.9" cy="152.2" r="2.35" fill="#ff0000" stroke="#000" stroke-width="0.65"/>
<circle cx="420.0" cy="151.0" r="2.35" fill="#ff0000" stroke="#000" stroke-width="0.65"/>
<circle cx="455.8" cy="64.2" r="2.35" fill="#0000ff" stroke="#000" stroke-width="0.65"/>
<circle cx="469.3" cy="59.0" r="2.35" fill="#0000ff" stroke="#000" stroke-width="0.65"/>
<circle cx="473.8" cy="79.4" r="2.35" fill="#0000ff" stroke="#000" stroke-width="0.65"/>
<circle cx="482.6" cy="59.5" r="2.35" fill="#0000ff" stroke="#000" stroke-width="0.65"/>
<circle cx="499.9" cy="63.2" r="2.35" fill="#0000ff" stroke="#000" stroke-width="0.65"/>
<circle cx="489.4" cy="75.5" r="2.35" fill="#0000ff" stroke="#000" stroke-width="0.65"/>
<circle cx="475.6" cy="79.9" r="2.35" fill="#0000ff" stroke="#000" stroke-width="0.65"/>
<circle cx="470.3" cy="91.2" r="2.35" fill="#0000ff" stroke="#000" stroke-width="0.65"/>
<circle cx="456.9" cy="99.8" r="2.35" fill="#0000ff" stroke="#000" stroke-width="0.65"/>
<circle cx="420.4" cy="89.8" r="2.35" fill="#0000ff" stroke="#000" stroke-width="0.65"/>
<circle cx="411.9" cy="90.3" r="2.35" fill="#0000ff" stroke="#000" stroke-width="0.65"/>
<circle cx="404.6" cy="105.4" r="2.35" fill="#0000ff" stroke="#000" stroke-width="0.65"/>
<circle cx="438.3" cy="98.8" r="2.35" fill="#0000ff" stroke="#000" stroke-width="0.65"/>
<circle cx="417.9" cy="110.4" r="2.35" fill="#0000ff" stroke="#000" stroke-width="0.65"/>
<circle cx="430.6" cy="112.6" r="2.35" fill="#0000ff" stroke="#000" stroke-width="0.65"/>
<circle cx="434.4" cy="115.4" r="2.35" fill="#0000ff" stroke="#000" stroke-width="0.65"/>
<circle cx="411.2" cy="122.5" r="2.35" fill="#0000ff" stroke="#000" stroke-width="0.65"/>
<circle cx="401.9" cy="123.6" r="2.35" fill="#0000ff" stroke="#000" stroke-width="0.65"/>
<circle cx="370.9" cy="111.9" r="2.35" fill="#0000ff" stroke="#000" stroke-width="0.65"/>
<circle cx="384.2" cy="117.7" r="2.35" fill="#0000ff" stroke="#000" stroke-width="0.65"/>
<circle cx="371.5" cy="124.8" r="2.35" fill="#0000ff" stroke="#000" stroke-width="0.65"/>
<circle cx="377.3" cy="126.5" r="2.35" fill="#0000ff" stroke="#000" stroke-width="0.65"/>
<circle cx="383.1" cy="131.7" r="2.35" fill="#0000ff" stroke="#000" stroke-width="0.65"/>
<circle cx="401.0" cy="124.8" r="2.35" fill="#0000ff" stroke="#000" stroke-width="0.65"/>
<circle cx="359.3" cy="130.2" r="2.35" fill="#0000ff" stroke="#000" stroke-width="0.65"/>
<circle cx="363.9" cy="142.7" r="2.35" fill="#0000ff" stroke="#000" stroke-width="0.65"/>
<circle cx="360.4" cy="146.6" r="2.35" fill="#0000ff" stroke="#000" stroke-width="0.65"/>
<circle cx="379.6" cy="145.6" r="2.35" fill="#0000ff" stroke="#000" stroke-width="0.65"/>
<circle cx="324.2" cy="136.0" r="2.35" fill="#0000ff" stroke="#000" stroke-width="0.65"/>
<circle cx="300.2" cy="179.2" r="2.35" fill="#0000ff" stroke="#000" stroke-width="0.65"/>
<circle cx="329.7" cy="172.3" r="2.35" fill="#0000ff" stroke="#000" stroke-width="0.65"/>
<circle cx="360.2" cy="146.4" r="2.35" fill="#0000ff" stroke="#000" stroke-width="0.65"/>
<circle cx="376.5" cy="158.8" r="2.35" fill="#0000ff" stroke="#000" stroke-width="0.65"/>
<circle cx="364.3" cy="185.6" r="2.35" fill="#0000ff" stroke="#000" stroke-width="0.65"/>
<circle cx="401.5" cy="125.0" r="2.35" fill="#0000ff" stroke="#000" stroke-width="0.65"/>
<circle cx="410.2" cy="122.6" r="2.35" fill="#0000ff" stroke="#000" stroke-width="0.65"/>
<circle cx="409.0" cy="131.9" r="2.35" fill="#0000ff" stroke="#000" stroke-width="0.65"/>
<circle cx="417.1" cy="128.4" r="2.35" fill="#0000ff" stroke="#000" stroke-width="0.65"/>
<circle cx="428.2" cy="128.4" r="2.35" fill="#0000ff" stroke="#000" stroke-width="0.65"/>
<circle cx="434.5" cy="127.9" r="2.35" fill="#0000ff" stroke="#000" stroke-width="0.65"/>
<circle cx="411.9" cy="149.9" r="2.35" fill="#0000ff" stroke="#000" stroke-width="0.65"/>
<circle cx="420.0" cy="154.0" r="2.35" fill="#0000ff" stroke="#000" stroke-width="0.65"/>
<circle cx="456.6" cy="100.0" r="2.35" fill="#0000ff" stroke="#000" stroke-width="0.65"/>
<circle cx="452.7" cy="108.2" r="2.35" fill="#0000ff" stroke="#000" stroke-width="0.65"/>
<circle cx="406.5" cy="174.7" r="2.35" fill="#0000ff" stroke="#000" stroke-width="0.65"/>
<circle cx="475.3" cy="70.6" r="2.35" fill="#008000" stroke="#000" stroke-width="0.65"/>
<circle cx="477.2" cy="73.5" r="2.35" fill="#008000" stroke="#000" stroke-width="0.65"/>
<circle cx="446.5" cy="81.4" r="2.35" fill="#008000" stroke="#000" stroke-width="0.65"/>
<circle cx="446.0" cy="91.0" r="2.35" fill="#008000" stroke="#000" stroke-width="0.65"/>
<circle cx="420.4" cy="80.4" r="2.35" fill="#008000" stroke="#000" stroke-width="0.65"/>
<circle cx="429.5" cy="80.5" r="2.35" fill="#008000" stroke="#000" stroke-width="0.65"/>
<circle cx="437.8" cy="84.6" r="2.35" fill="#008000" stroke="#000" stroke-width="0.65"/>
<circle cx="422.8" cy="95.5" r="2.35" fill="#008000" stroke="#000" stroke-width="0.65"/>
<circle cx="416.8" cy="98.2" r="2.35" fill="#008000" stroke="#000" stroke-width="0.65"/>
<circle cx="427.8" cy="107.1" r="2.35" fill="#008000" stroke="#000" stroke-width="0.65"/>
<circle cx="436.1" cy="102.7" r="2.35" fill="#008000" stroke="#000" stroke-width="0.65"/>
<circle cx="417.3" cy="116.5" r="2.35" fill="#008000" stroke="#000" stroke-width="0.65"/>
<circle cx="434.4" cy="120.3" r="2.35" fill="#008000" stroke="#000" stroke-width="0.65"/>
<circle cx="372.0" cy="107.3" r="2.35" fill="#008000" stroke="#000" stroke-width="0.65"/>
<circle cx="360.4" cy="141.5" r="2.35" fill="#008000" stroke="#000" stroke-width="0.65"/>
<circle cx="300.2" cy="188.1" r="2.35" fill="#008000" stroke="#000" stroke-width="0.65"/>
<circle cx="369.9" cy="151.2" r="2.35" fill="#008000" stroke="#000" stroke-width="0.65"/>
<circle cx="378.8" cy="151.9" r="2.35" fill="#008000" stroke="#000" stroke-width="0.65"/>
<circle cx="368.0" cy="170.5" r="2.35" fill="#008000" stroke="#000" stroke-width="0.65"/>
<circle cx="387.1" cy="174.2" r="2.35" fill="#008000" stroke="#000" stroke-width="0.65"/>
<circle cx="370.5" cy="208.6" r="2.35" fill="#008000" stroke="#000" stroke-width="0.65"/>
<circle cx="401.5" cy="137.1" r="2.35" fill="#008000" stroke="#000" stroke-width="0.65"/>
<circle cx="436.3" cy="119.2" r="2.35" fill="#008000" stroke="#000" stroke-width="0.65"/>
<circle cx="439.8" cy="132.0" r="2.35" fill="#008000" stroke="#000" stroke-width="0.65"/>
<circle cx="456.6" cy="107.7" r="2.35" fill="#008000" stroke="#000" stroke-width="0.65"/>
<circle cx="406.5" cy="178.0" r="2.35" fill="#008000" stroke="#000" stroke-width="0.65"/>
<circle cx="420.0" cy="195.7" r="2.35" fill="#008000" stroke="#000" stroke-width="0.65"/>
<circle cx="469.0" cy="68.7" r="2.35" fill="#d8d800" stroke="#000" stroke-width="0.65"/>
<circle cx="474.8" cy="72.6" r="2.35" fill="#d8d800" stroke="#000" stroke-width="0.65"/>
<circle cx="476.3" cy="76.4" r="2.35" fill="#d8d800" stroke="#000" stroke-width="0.65"/>
<circle cx="483.0" cy="56.6" r="2.35" fill="#d8d800" stroke="#000" stroke-width="0.65"/>
<circle cx="489.3" cy="65.5" r="2.35" fill="#d8d800" stroke="#000" stroke-width="0.65"/>
<circle cx="500.4" cy="79.9" r="2.35" fill="#d8d800" stroke="#000" stroke-width="0.65"/>
<circle cx="446.5" cy="83.4" r="2.35" fill="#d8d800" stroke="#000" stroke-width="0.65"/>
<circle cx="470.3" cy="93.4" r="2.35" fill="#d8d800" stroke="#000" stroke-width="0.65"/>
<circle cx="463.9" cy="96.4" r="2.35" fill="#d8d800" stroke="#000" stroke-width="0.65"/>
<circle cx="448.0" cy="89.4" r="2.35" fill="#d8d800" stroke="#000" stroke-width="0.65"/>
<circle cx="452.9" cy="102.5" r="2.35" fill="#d8d800" stroke="#000" stroke-width="0.65"/>
<circle cx="420.4" cy="82.6" r="2.35" fill="#d8d800" stroke="#000" stroke-width="0.65"/>
<circle cx="428.7" cy="84.8" r="2.35" fill="#d8d800" stroke="#000" stroke-width="0.65"/>
<circle cx="436.2" cy="86.2" r="2.35" fill="#d8d800" stroke="#000" stroke-width="0.65"/>
<circle cx="423.2" cy="89.8" r="2.35" fill="#d8d800" stroke="#000" stroke-width="0.65"/>
<circle cx="404.6" cy="97.7" r="2.35" fill="#d8d800" stroke="#000" stroke-width="0.65"/>
<circle cx="438.8" cy="94.9" r="2.35" fill="#d8d800" stroke="#000" stroke-width="0.65"/>
<circle cx="416.8" cy="101.0" r="2.35" fill="#d8d800" stroke="#000" stroke-width="0.65"/>
<circle cx="411.2" cy="106.0" r="2.35" fill="#d8d800" stroke="#000" stroke-width="0.65"/>
<circle cx="419.5" cy="100.5" r="2.35" fill="#d8d800" stroke="#000" stroke-width="0.65"/>
<circle cx="423.4" cy="106.0" r="2.35" fill="#d8d800" stroke="#000" stroke-width="0.65"/>
<circle cx="427.8" cy="110.4" r="2.35" fill="#d8d800" stroke="#000" stroke-width="0.65"/>
<circle cx="430.0" cy="104.9" r="2.35" fill="#d8d800" stroke="#000" stroke-width="0.65"/>
<circle cx="436.1" cy="104.3" r="2.35" fill="#d8d800" stroke="#000" stroke-width="0.65"/>
<circle cx="409.0" cy="112.6" r="2.35" fill="#d8d800" stroke="#000" stroke-width="0.65"/>
<circle cx="417.3" cy="119.8" r="2.35" fill="#d8d800" stroke="#000" stroke-width="0.65"/>
<circle cx="437.2" cy="118.1" r="2.35" fill="#d8d800" stroke="#000" stroke-width="0.65"/>
<circle cx="434.4" cy="123.1" r="2.35" fill="#d8d800" stroke="#000" stroke-width="0.65"/>
<circle cx="372.0" cy="109.0" r="2.35" fill="#d8d800" stroke="#000" stroke-width="0.65"/>
<circle cx="370.9" cy="114.2" r="2.35" fill="#d8d800" stroke="#000" stroke-width="0.65"/>
<circle cx="382.5" cy="110.7" r="2.35" fill="#d8d800" stroke="#000" stroke-width="0.65"/>
<circle cx="384.8" cy="119.5" r="2.35" fill="#d8d800" stroke="#000" stroke-width="0.65"/>
<circle cx="394.1" cy="131.7" r="2.35" fill="#d8d800" stroke="#000" stroke-width="0.65"/>
<circle cx="401.0" cy="135.2" r="2.35" fill="#d8d800" stroke="#000" stroke-width="0.65"/>
<circle cx="359.3" cy="125.6" r="2.35" fill="#d8d800" stroke="#000" stroke-width="0.65"/>
<circle cx="363.8" cy="125.3" r="2.35" fill="#d8d800" stroke="#000" stroke-width="0.65"/>
<circle cx="360.4" cy="139.8" r="2.35" fill="#d8d800" stroke="#000" stroke-width="0.65"/>
<circle cx="376.7" cy="139.3" r="2.35" fill="#d8d800" stroke="#000" stroke-width="0.65"/>
<circle cx="376.7" cy="145.6" r="2.35" fill="#d8d800" stroke="#000" stroke-width="0.65"/>
<circle cx="370.0" cy="147.5" r="2.35" fill="#d8d800" stroke="#000" stroke-width="0.65"/>
<circle cx="379.6" cy="150.3" r="2.35" fill="#d8d800" stroke="#000" stroke-width="0.65"/>
<circle cx="324.2" cy="131.0" r="2.35" fill="#d8d800" stroke="#000" stroke-width="0.65"/>
<circle cx="300.2" cy="185.7" r="2.35" fill="#d8d800" stroke="#000" stroke-width="0.65"/>
<circle cx="329.7" cy="175.0" r="2.35" fill="#d8d800" stroke="#000" stroke-width="0.65"/>
<circle cx="369.9" cy="148.5" r="2.35" fill="#d8d800" stroke="#000" stroke-width="0.65"/>
<circle cx="376.8" cy="146.4" r="2.35" fill="#d8d800" stroke="#000" stroke-width="0.65"/>
<circle cx="379.2" cy="148.5" r="2.35" fill="#d8d800" stroke="#000" stroke-width="0.65"/>
<circle cx="360.2" cy="158.5" r="2.35" fill="#d8d800" stroke="#000" stroke-width="0.65"/>
<circle cx="367.1" cy="169.2" r="2.35" fill="#d8d800" stroke="#000" stroke-width="0.65"/>
<circle cx="391.5" cy="155.0" r="2.35" fill="#d8d800" stroke="#000" stroke-width="0.65"/>
<circle cx="387.1" cy="172.6" r="2.35" fill="#d8d800" stroke="#000" stroke-width="0.65"/>
<circle cx="370.5" cy="206.1" r="2.35" fill="#d8d800" stroke="#000" stroke-width="0.65"/>
<circle cx="401.5" cy="135.4" r="2.35" fill="#d8d800" stroke="#000" stroke-width="0.65"/>
<circle cx="409.0" cy="129.0" r="2.35" fill="#d8d800" stroke="#000" stroke-width="0.65"/>
<circle cx="417.1" cy="119.7" r="2.35" fill="#d8d800" stroke="#000" stroke-width="0.65"/>
<circle cx="417.7" cy="133.1" r="2.35" fill="#d8d800" stroke="#000" stroke-width="0.65"/>
<circle cx="423.5" cy="125.5" r="2.35" fill="#d8d800" stroke="#000" stroke-width="0.65"/>
<circle cx="434.5" cy="122.6" r="2.35" fill="#d8d800" stroke="#000" stroke-width="0.65"/>
<circle cx="439.8" cy="129.6" r="2.35" fill="#d8d800" stroke="#000" stroke-width="0.65"/>
<circle cx="411.9" cy="145.3" r="2.35" fill="#d8d800" stroke="#000" stroke-width="0.65"/>
<circle cx="453.0" cy="102.7" r="2.35" fill="#d8d800" stroke="#000" stroke-width="0.65"/>
<circle cx="456.6" cy="110.5" r="2.35" fill="#d8d800" stroke="#000" stroke-width="0.65"/>
<circle cx="463.7" cy="96.7" r="2.35" fill="#d8d800" stroke="#000" stroke-width="0.65"/>
<circle cx="470.4" cy="95.0" r="2.35" fill="#d8d800" stroke="#000" stroke-width="0.65"/>
<circle cx="440.6" cy="130.3" r="2.35" fill="#d8d800" stroke="#000" stroke-width="0.65"/>
<circle cx="406.5" cy="176.5" r="2.35" fill="#d8d800" stroke="#000" stroke-width="0.65"/>
<circle cx="420.0" cy="194.1" r="2.35" fill="#d8d800" stroke="#000" stroke-width="0.65"/>
<circle cx="472.4" cy="53.2" r="2.35" fill="#000000" stroke="#000" stroke-width="0.65"/>
<circle cx="486.0" cy="54.7" r="2.35" fill="#000000" stroke="#000" stroke-width="0.65"/>
<circle cx="507.6" cy="54.3" r="2.35" fill="#000000" stroke="#000" stroke-width="0.65"/>
<circle cx="460.8" cy="72.6" r="2.35" fill="#000000" stroke="#000" stroke-width="0.65"/>
<circle cx="460.9" cy="72.5" r="2.35" fill="#000000" stroke="#000" stroke-width="0.65"/>
<circle cx="465.9" cy="81.0" r="2.35" fill="#000000" stroke="#000" stroke-width="0.65"/>
<circle cx="446.6" cy="102.2" r="2.35" fill="#000000" stroke="#000" stroke-width="0.65"/>
<circle cx="413.8" cy="81.5" r="2.35" fill="#000000" stroke="#000" stroke-width="0.65"/>
<circle cx="436.5" cy="77.5" r="2.35" fill="#000000" stroke="#000" stroke-width="0.65"/>
<circle cx="411.2" cy="100.5" r="2.35" fill="#000000" stroke="#000" stroke-width="0.65"/>
<circle cx="389.5" cy="126.5" r="2.35" fill="#000000" stroke="#000" stroke-width="0.65"/>
<circle cx="379.5" cy="160.9" r="2.35" fill="#000000" stroke="#000" stroke-width="0.65"/>
<circle cx="390.6" cy="153.3" r="2.35" fill="#000000" stroke="#000" stroke-width="0.65"/>
<circle cx="364.3" cy="194.9" r="2.35" fill="#000000" stroke="#000" stroke-width="0.65"/>
<circle cx="416.5" cy="153.5" r="2.35" fill="#000000" stroke="#000" stroke-width="0.65"/>
<circle cx="448.3" cy="112.7" r="2.35" fill="#000000" stroke="#000" stroke-width="0.65"/>
<circle cx="472.4" cy="48.9" r="2.35" fill="#d000d0" stroke="#000" stroke-width="0.65"/>
<circle cx="472.4" cy="64.8" r="2.35" fill="#d000d0" stroke="#000" stroke-width="0.65"/>
<circle cx="486.0" cy="46.0" r="2.35" fill="#d000d0" stroke="#000" stroke-width="0.65"/>
<circle cx="482.1" cy="69.2" r="2.35" fill="#d000d0" stroke="#000" stroke-width="0.65"/>
<circle cx="493.7" cy="66.8" r="2.35" fill="#d000d0" stroke="#000" stroke-width="0.65"/>
<circle cx="507.6" cy="52.0" r="2.35" fill="#d000d0" stroke="#000" stroke-width="0.65"/>
<circle cx="475.6" cy="86.6" r="2.35" fill="#d000d0" stroke="#000" stroke-width="0.65"/>
<circle cx="480.8" cy="69.5" r="2.35" fill="#d000d0" stroke="#000" stroke-width="0.65"/>
<circle cx="451.4" cy="85.9" r="2.35" fill="#d000d0" stroke="#000" stroke-width="0.65"/>
<circle cx="453.9" cy="86.4" r="2.35" fill="#d000d0" stroke="#000" stroke-width="0.65"/>
<circle cx="456.4" cy="86.4" r="2.35" fill="#d000d0" stroke="#000" stroke-width="0.65"/>
<circle cx="459.4" cy="85.9" r="2.35" fill="#d000d0" stroke="#000" stroke-width="0.65"/>
<circle cx="475.3" cy="86.3" r="2.35" fill="#d000d0" stroke="#000" stroke-width="0.65"/>
<circle cx="463.9" cy="93.4" r="2.35" fill="#d000d0" stroke="#000" stroke-width="0.65"/>
<circle cx="452.9" cy="91.9" r="2.35" fill="#d000d0" stroke="#000" stroke-width="0.65"/>
<circle cx="446.1" cy="104.4" r="2.35" fill="#d000d0" stroke="#000" stroke-width="0.65"/>
<circle cx="413.8" cy="83.9" r="2.35" fill="#d000d0" stroke="#000" stroke-width="0.65"/>
<circle cx="435.9" cy="78.7" r="2.35" fill="#d000d0" stroke="#000" stroke-width="0.65"/>
<circle cx="430.9" cy="81.5" r="2.35" fill="#d000d0" stroke="#000" stroke-width="0.65"/>
<circle cx="434.2" cy="82.0" r="2.35" fill="#d000d0" stroke="#000" stroke-width="0.65"/>
<circle cx="427.8" cy="98.8" r="2.35" fill="#d000d0" stroke="#000" stroke-width="0.65"/>
<circle cx="433.3" cy="92.2" r="2.35" fill="#d000d0" stroke="#000" stroke-width="0.65"/>
<circle cx="411.2" cy="102.1" r="2.35" fill="#d000d0" stroke="#000" stroke-width="0.65"/>
<circle cx="423.4" cy="111.5" r="2.35" fill="#d000d0" stroke="#000" stroke-width="0.65"/>
<circle cx="446.6" cy="103.8" r="2.35" fill="#d000d0" stroke="#000" stroke-width="0.65"/>
<circle cx="421.2" cy="122.0" r="2.35" fill="#d000d0" stroke="#000" stroke-width="0.65"/>
<circle cx="447.1" cy="115.4" r="2.35" fill="#d000d0" stroke="#000" stroke-width="0.65"/>
<circle cx="376.7" cy="105.0" r="2.35" fill="#d000d0" stroke="#000" stroke-width="0.65"/>
<circle cx="386.0" cy="107.8" r="2.35" fill="#d000d0" stroke="#000" stroke-width="0.65"/>
<circle cx="390.6" cy="113.6" r="2.35" fill="#d000d0" stroke="#000" stroke-width="0.65"/>
<circle cx="381.9" cy="120.0" r="2.35" fill="#d000d0" stroke="#000" stroke-width="0.65"/>
<circle cx="377.8" cy="123.0" r="2.35" fill="#d000d0" stroke="#000" stroke-width="0.65"/>
<circle cx="381.9" cy="120.1" r="2.35" fill="#d000d0" stroke="#000" stroke-width="0.65"/>
<circle cx="390.6" cy="128.2" r="2.35" fill="#d000d0" stroke="#000" stroke-width="0.65"/>
<circle cx="387.0" cy="137.5" r="2.35" fill="#d000d0" stroke="#000" stroke-width="0.65"/>
<circle cx="352.2" cy="133.6" r="2.35" fill="#d000d0" stroke="#000" stroke-width="0.65"/>
<circle cx="379.6" cy="139.3" r="2.35" fill="#d000d0" stroke="#000" stroke-width="0.65"/>
<circle cx="390.6" cy="149.8" r="2.35" fill="#d000d0" stroke="#000" stroke-width="0.65"/>
<circle cx="314.0" cy="155.5" r="2.35" fill="#d000d0" stroke="#000" stroke-width="0.65"/>
<circle cx="379.5" cy="164.1" r="2.35" fill="#d000d0" stroke="#000" stroke-width="0.65"/>
<circle cx="370.3" cy="174.0" r="2.35" fill="#d000d0" stroke="#000" stroke-width="0.65"/>
<circle cx="364.3" cy="192.4" r="2.35" fill="#d000d0" stroke="#000" stroke-width="0.65"/>
<circle cx="416.6" cy="125.5" r="2.35" fill="#d000d0" stroke="#000" stroke-width="0.65"/>
<circle cx="421.8" cy="122.1" r="2.35" fill="#d000d0" stroke="#000" stroke-width="0.65"/>
<circle cx="439.8" cy="135.4" r="2.35" fill="#d000d0" stroke="#000" stroke-width="0.65"/>
<circle cx="415.4" cy="151.6" r="2.35" fill="#d000d0" stroke="#000" stroke-width="0.65"/>
<circle cx="448.3" cy="114.9" r="2.35" fill="#d000d0" stroke="#000" stroke-width="0.65"/>
<circle cx="472.4" cy="60.5" r="2.35" fill="#00c8c8" stroke="#000" stroke-width="0.65"/>
<circle cx="471.9" cy="68.2" r="2.35" fill="#00c8c8" stroke="#000" stroke-width="0.65"/>
<circle cx="485.8" cy="59.5" r="2.35" fill="#00c8c8" stroke="#000" stroke-width="0.65"/>
<circle cx="482.1" cy="63.4" r="2.35" fill="#00c8c8" stroke="#000" stroke-width="0.65"/>
<circle cx="507.0" cy="71.4" r="2.35" fill="#00c8c8" stroke="#000" stroke-width="0.65"/>
<circle cx="456.5" cy="76.0" r="2.35" fill="#00c8c8" stroke="#000" stroke-width="0.65"/>
<circle cx="456.4" cy="75.5" r="2.35" fill="#00c8c8" stroke="#000" stroke-width="0.65"/>
<circle cx="461.4" cy="80.0" r="2.35" fill="#00c8c8" stroke="#000" stroke-width="0.65"/>
<circle cx="463.9" cy="85.4" r="2.35" fill="#00c8c8" stroke="#000" stroke-width="0.65"/>
<circle cx="474.9" cy="88.0" r="2.35" fill="#00c8c8" stroke="#000" stroke-width="0.65"/>
<circle cx="452.9" cy="94.4" r="2.35" fill="#00c8c8" stroke="#000" stroke-width="0.65"/>
<circle cx="446.5" cy="93.9" r="2.35" fill="#00c8c8" stroke="#000" stroke-width="0.65"/>
<circle cx="433.7" cy="73.2" r="2.35" fill="#00c8c8" stroke="#000" stroke-width="0.65"/>
<circle cx="427.0" cy="89.8" r="2.35" fill="#00c8c8" stroke="#000" stroke-width="0.65"/>
<circle cx="416.2" cy="104.3" r="2.35" fill="#00c8c8" stroke="#000" stroke-width="0.65"/>
<circle cx="436.6" cy="107.1" r="2.35" fill="#00c8c8" stroke="#000" stroke-width="0.65"/>
<circle cx="440.5" cy="114.8" r="2.35" fill="#00c8c8" stroke="#000" stroke-width="0.65"/>
<circle cx="413.5" cy="114.8" r="2.35" fill="#00c8c8" stroke="#000" stroke-width="0.65"/>
<circle cx="385.0" cy="111.5" r="2.35" fill="#00c8c8" stroke="#000" stroke-width="0.65"/>
<circle cx="378.4" cy="118.9" r="2.35" fill="#00c8c8" stroke="#000" stroke-width="0.65"/>
<circle cx="386.5" cy="135.8" r="2.35" fill="#00c8c8" stroke="#000" stroke-width="0.65"/>
<circle cx="394.1" cy="138.1" r="2.35" fill="#00c8c8" stroke="#000" stroke-width="0.65"/>
<circle cx="313.6" cy="181.5" r="2.35" fill="#00c8c8" stroke="#000" stroke-width="0.65"/>
<circle cx="323.6" cy="187.9" r="2.35" fill="#00c8c8" stroke="#000" stroke-width="0.65"/>
<circle cx="390.6" cy="159.7" r="2.35" fill="#00c8c8" stroke="#000" stroke-width="0.65"/>
<circle cx="364.3" cy="200.5" r="2.35" fill="#00c8c8" stroke="#000" stroke-width="0.65"/>
<circle cx="379.8" cy="208.0" r="2.35" fill="#00c8c8" stroke="#000" stroke-width="0.65"/>
<circle cx="448.8" cy="105.5" r="2.35" fill="#00c8c8" stroke="#000" stroke-width="0.65"/>
<circle cx="472.9" cy="56.1" r="2.35" fill="#ffffff" stroke="#000" stroke-width="0.65"/>
<circle cx="471.9" cy="70.8" r="2.35" fill="#ffffff" stroke="#000" stroke-width="0.65"/>
<circle cx="485.8" cy="50.6" r="2.35" fill="#ffffff" stroke="#000" stroke-width="0.65"/>
<circle cx="482.1" cy="65.8" r="2.35" fill="#ffffff" stroke="#000" stroke-width="0.65"/>
<circle cx="493.7" cy="63.4" r="2.35" fill="#ffffff" stroke="#000" stroke-width="0.65"/>
<circle cx="507.6" cy="72.4" r="2.35" fill="#ffffff" stroke="#000" stroke-width="0.65"/>
<circle cx="461.8" cy="76.0" r="2.35" fill="#ffffff" stroke="#000" stroke-width="0.65"/>
<circle cx="475.6" cy="88.8" r="2.35" fill="#ffffff" stroke="#000" stroke-width="0.65"/>
<circle cx="450.4" cy="75.0" r="2.35" fill="#ffffff" stroke="#000" stroke-width="0.65"/>
<circle cx="452.9" cy="76.0" r="2.35" fill="#ffffff" stroke="#000" stroke-width="0.65"/>
<circle cx="461.4" cy="75.5" r="2.35" fill="#ffffff" stroke="#000" stroke-width="0.65"/>
<circle cx="456.4" cy="81.4" r="2.35" fill="#ffffff" stroke="#000" stroke-width="0.65"/>
<circle cx="465.9" cy="84.0" r="2.35" fill="#ffffff" stroke="#000" stroke-width="0.65"/>
<circle cx="463.9" cy="88.9" r="2.35" fill="#ffffff" stroke="#000" stroke-width="0.65"/>
<circle cx="471.8" cy="85.4" r="2.35" fill="#ffffff" stroke="#000" stroke-width="0.65"/>
<circle cx="474.8" cy="90.9" r="2.35" fill="#ffffff" stroke="#000" stroke-width="0.65"/>
<circle cx="452.9" cy="97.9" r="2.35" fill="#ffffff" stroke="#000" stroke-width="0.65"/>
<circle cx="446.5" cy="95.6" r="2.35" fill="#ffffff" stroke="#000" stroke-width="0.65"/>
<circle cx="433.7" cy="75.4" r="2.35" fill="#ffffff" stroke="#000" stroke-width="0.65"/>
<circle cx="434.2" cy="87.0" r="2.35" fill="#ffffff" stroke="#000" stroke-width="0.65"/>
<circle cx="431.5" cy="89.8" r="2.35" fill="#ffffff" stroke="#000" stroke-width="0.65"/>
<circle cx="436.4" cy="90.3" r="2.35" fill="#ffffff" stroke="#000" stroke-width="0.65"/>
<circle cx="411.2" cy="94.9" r="2.35" fill="#ffffff" stroke="#000" stroke-width="0.65"/>
<circle cx="430.6" cy="90.0" r="2.35" fill="#ffffff" stroke="#000" stroke-width="0.65"/>
<circle cx="433.9" cy="87.8" r="2.35" fill="#ffffff" stroke="#000" stroke-width="0.65"/>
<circle cx="427.5" cy="93.5" r="2.35" fill="#ffffff" stroke="#000" stroke-width="0.65"/>
<circle cx="445.5" cy="95.5" r="2.35" fill="#ffffff" stroke="#000" stroke-width="0.65"/>
<circle cx="416.2" cy="106.0" r="2.35" fill="#ffffff" stroke="#000" stroke-width="0.65"/>
<circle cx="423.4" cy="102.7" r="2.35" fill="#ffffff" stroke="#000" stroke-width="0.65"/>
<circle cx="436.6" cy="109.8" r="2.35" fill="#ffffff" stroke="#000" stroke-width="0.65"/>
<circle cx="440.5" cy="112.0" r="2.35" fill="#ffffff" stroke="#000" stroke-width="0.65"/>
<circle cx="414.0" cy="112.0" r="2.35" fill="#ffffff" stroke="#000" stroke-width="0.65"/>
<circle cx="422.8" cy="117.6" r="2.35" fill="#ffffff" stroke="#000" stroke-width="0.65"/>
<circle cx="376.7" cy="107.8" r="2.35" fill="#ffffff" stroke="#000" stroke-width="0.65"/>
<circle cx="383.1" cy="107.3" r="2.35" fill="#ffffff" stroke="#000" stroke-width="0.65"/>
<circle cx="385.4" cy="114.2" r="2.35" fill="#ffffff" stroke="#000" stroke-width="0.65"/>
<circle cx="390.6" cy="117.1" r="2.35" fill="#ffffff" stroke="#000" stroke-width="0.65"/>
<circle cx="378.4" cy="118.4" r="2.35" fill="#ffffff" stroke="#000" stroke-width="0.65"/>
<circle cx="381.3" cy="127.7" r="2.35" fill="#ffffff" stroke="#000" stroke-width="0.65"/>
<circle cx="379.6" cy="132.3" r="2.35" fill="#ffffff" stroke="#000" stroke-width="0.65"/>
<circle cx="386.5" cy="132.9" r="2.35" fill="#ffffff" stroke="#000" stroke-width="0.65"/>
<circle cx="395.2" cy="135.2" r="2.35" fill="#ffffff" stroke="#000" stroke-width="0.65"/>
<circle cx="352.2" cy="129.3" r="2.35" fill="#ffffff" stroke="#000" stroke-width="0.65"/>
<circle cx="374.2" cy="149.5" r="2.35" fill="#ffffff" stroke="#000" stroke-width="0.65"/>
<circle cx="313.6" cy="180.1" r="2.35" fill="#ffffff" stroke="#000" stroke-width="0.65"/>
<circle cx="323.6" cy="185.1" r="2.35" fill="#ffffff" stroke="#000" stroke-width="0.65"/>
<circle cx="374.0" cy="149.8" r="2.35" fill="#ffffff" stroke="#000" stroke-width="0.65"/>
<circle cx="370.3" cy="167.1" r="2.35" fill="#ffffff" stroke="#000" stroke-width="0.65"/>
<circle cx="390.6" cy="158.1" r="2.35" fill="#ffffff" stroke="#000" stroke-width="0.65"/>
<circle cx="364.3" cy="198.0" r="2.35" fill="#ffffff" stroke="#000" stroke-width="0.65"/>
<circle cx="379.8" cy="204.8" r="2.35" fill="#ffffff" stroke="#000" stroke-width="0.65"/>
<circle cx="423.0" cy="118.6" r="2.35" fill="#ffffff" stroke="#000" stroke-width="0.65"/>
<circle cx="439.8" cy="126.1" r="2.35" fill="#ffffff" stroke="#000" stroke-width="0.65"/>
<circle cx="415.4" cy="144.1" r="2.35" fill="#ffffff" stroke="#000" stroke-width="0.65"/>
<circle cx="452.7" cy="98.3" r="2.35" fill="#ffffff" stroke="#000" stroke-width="0.65"/>
<circle cx="448.3" cy="108.8" r="2.35" fill="#ffffff" stroke="#000" stroke-width="0.65"/>
<circle cx="440.6" cy="126.0" r="2.35" fill="#ffffff" stroke="#000" stroke-width="0.65"/>
<line x1="284.0" y1="236.92" x2="531.69" y2="8.64" stroke="#000" stroke-width="1.6"/>
<line x1="284.0" y1="200.10" x2="491.74" y2="8.64" stroke="#000" stroke-width="1.6" stroke-dasharray="4.1,4.654" stroke-dashoffset="0.914"/>
<line x1="323.95" y1="236.92" x2="531.69" y2="45.46" stroke="#000" stroke-width="1.6" stroke-dasharray="4.1,4.676" stroke-dashoffset="3.136"/>
</g>
<line x1="303.975" y1="236.92000000000002" x2="303.975" y2="233.92000000000002" stroke="#000" stroke-width="0.5"/>
<line x1="303.975" y1="16.0" x2="303.975" y2="19.0" stroke="#000" stroke-width="0.5"/>
<line x1="284.0" y1="218.51" x2="287.0" y2="218.51" stroke="#000" stroke-width="0.5"/>
<line x1="523.7" y1="218.51" x2="520.7" y2="218.51" stroke="#000" stroke-width="0.5"/>
<text x="303.975" y="248.8" font-size="12.8" text-anchor="middle">6</text>
<line x1="343.925" y1="236.92000000000002" x2="343.925" y2="233.92000000000002" stroke="#000" stroke-width="0.5"/>
<line x1="343.925" y1="16.0" x2="343.925" y2="19.0" stroke="#000" stroke-width="0.5"/>
<line x1="284.0" y1="181.69" x2="287.0" y2="181.69" stroke="#000" stroke-width="0.5"/>
<line x1="523.7" y1="181.69" x2="520.7" y2="181.69" stroke="#000" stroke-width="0.5"/>
<text x="343.925" y="248.8" font-size="12.8" text-anchor="middle">7</text>
<line x1="383.875" y1="236.92000000000002" x2="383.875" y2="233.92000000000002" stroke="#000" stroke-width="0.5"/>
<line x1="383.875" y1="16.0" x2="383.875" y2="19.0" stroke="#000" stroke-width="0.5"/>
<line x1="284.0" y1="144.87" x2="287.0" y2="144.87" stroke="#000" stroke-width="0.5"/>
<line x1="523.7" y1="144.87" x2="520.7" y2="144.87" stroke="#000" stroke-width="0.5"/>
<text x="383.875" y="248.8" font-size="12.8" text-anchor="middle">8</text>
<line x1="423.82500000000005" y1="236.92000000000002" x2="423.82500000000005" y2="233.92000000000002" stroke="#000" stroke-width="0.5"/>
<line x1="423.82500000000005" y1="16.0" x2="423.82500000000005" y2="19.0" stroke="#000" stroke-width="0.5"/>
<line x1="284.0" y1="108.05" x2="287.0" y2="108.05" stroke="#000" stroke-width="0.5"/>
<line x1="523.7" y1="108.05" x2="520.7" y2="108.05" stroke="#000" stroke-width="0.5"/>
<text x="423.82500000000005" y="248.8" font-size="12.8" text-anchor="middle">9</text>
<line x1="463.775" y1="236.92000000000002" x2="463.775" y2="233.92000000000002" stroke="#000" stroke-width="0.5"/>
<line x1="463.775" y1="16.0" x2="463.775" y2="19.0" stroke="#000" stroke-width="0.5"/>
<line x1="284.0" y1="71.23" x2="287.0" y2="71.23" stroke="#000" stroke-width="0.5"/>
<line x1="523.7" y1="71.23" x2="520.7" y2="71.23" stroke="#000" stroke-width="0.5"/>
<text x="463.775" y="248.8" font-size="12.8" text-anchor="middle">10</text>
<line x1="503.725" y1="236.92000000000002" x2="503.725" y2="233.92000000000002" stroke="#000" stroke-width="0.5"/>
<line x1="503.725" y1="16.0" x2="503.725" y2="19.0" stroke="#000" stroke-width="0.5"/>
<line x1="284.0" y1="34.41" x2="287.0" y2="34.41" stroke="#000" stroke-width="0.5"/>
<line x1="523.7" y1="34.41" x2="520.7" y2="34.41" stroke="#000" stroke-width="0.5"/>
<text x="503.725" y="248.8" font-size="12.8" text-anchor="middle">11</text>
<path d="M284.0,16.2H523.85V236.9H284.0Z" fill="none" stroke="#000" stroke-width="1"/>
<text x="404.65000000000003" y="12" font-size="14.7" text-anchor="middle" textLength="133" lengthAdjust="spacingAndGlyphs">basic model type 2</text>
<text x="403.85" y="263" font-size="12.3" text-anchor="middle" textLength="177" lengthAdjust="spacingAndGlyphs">reported losses [log10 2005$]</text>
<text x="300.6" y="35.4" font-size="12.8" font-weight="bold">b</text>
<text transform="translate(10.2,126.5) rotate(-90)" font-size="12.3" text-anchor="middle" textLength="180" lengthAdjust="spacingAndGlyphs">modelled losses [log10 2005$]</text>
<rect x="85.0" y="273.2" width="374.6" height="87.4" fill="#fff" stroke="#000" stroke-width="1"/>
<circle cx="94.6" cy="284.8" r="2.5" fill="#ff0000" stroke="#000" stroke-width="0.5"/>
<circle cx="114.3" cy="284.8" r="2.5" fill="#ff0000" stroke="#000" stroke-width="0.5"/>
<text x="128.7" y="288.7" font-size="15.3" textLength="121.5" lengthAdjust="spacingAndGlyphs">icat/power/global</text>
<circle cx="94.6" cy="305.3" r="2.5" fill="#0000ff" stroke="#000" stroke-width="0.5"/>
<circle cx="114.3" cy="305.3" r="2.5" fill="#0000ff" stroke="#000" stroke-width="0.5"/>
<text x="128.7" y="309.2" font-size="15.3" textLength="103.5" lengthAdjust="spacingAndGlyphs">icat/exp/global</text>
<circle cx="94.6" cy="326.2" r="2.5" fill="#008000" stroke="#000" stroke-width="0.5"/>
<circle cx="114.3" cy="326.2" r="2.5" fill="#008000" stroke="#000" stroke-width="0.5"/>
<text x="128.7" y="330.09999999999997" font-size="15.3" textLength="111.3" lengthAdjust="spacingAndGlyphs">icat/power/local</text>
<circle cx="94.6" cy="347.0" r="2.5" fill="#d8d800" stroke="#000" stroke-width="0.5"/>
<circle cx="114.3" cy="347.0" r="2.5" fill="#d8d800" stroke="#000" stroke-width="0.5"/>
<text x="128.7" y="350.9" font-size="15.3" textLength="93.4" lengthAdjust="spacingAndGlyphs">icat/exp/local</text>
<circle cx="281.1" cy="284.8" r="2.5" fill="#000000" stroke="#000" stroke-width="0.5"/>
<circle cx="300.7" cy="284.8" r="2.5" fill="#000000" stroke="#000" stroke-width="0.5"/>
<text x="315.1" y="288.7" font-size="15.3" textLength="141.1" lengthAdjust="spacingAndGlyphs">natcat/power/global</text>
<circle cx="281.1" cy="305.3" r="2.5" fill="#d000d0" stroke="#000" stroke-width="0.5"/>
<circle cx="300.7" cy="305.3" r="2.5" fill="#d000d0" stroke="#000" stroke-width="0.5"/>
<text x="315.1" y="309.2" font-size="15.3" textLength="123" lengthAdjust="spacingAndGlyphs">natcat/exp/global</text>
<circle cx="281.1" cy="326.2" r="2.5" fill="#00c8c8" stroke="#000" stroke-width="0.5"/>
<circle cx="300.7" cy="326.2" r="2.5" fill="#00c8c8" stroke="#000" stroke-width="0.5"/>
<text x="315.1" y="330.09999999999997" font-size="15.3" textLength="128.3" lengthAdjust="spacingAndGlyphs">natcat/power/local</text>
<circle cx="281.1" cy="347.0" r="2.5" fill="#ffffff" stroke="#000" stroke-width="0.5"/>
<circle cx="300.7" cy="347.0" r="2.5" fill="#ffffff" stroke="#000" stroke-width="0.5"/>
<text x="315.1" y="350.9" font-size="15.3" textLength="113.9" lengthAdjust="spacingAndGlyphs">natcat/exp/local</text>
</svg></body></html>
